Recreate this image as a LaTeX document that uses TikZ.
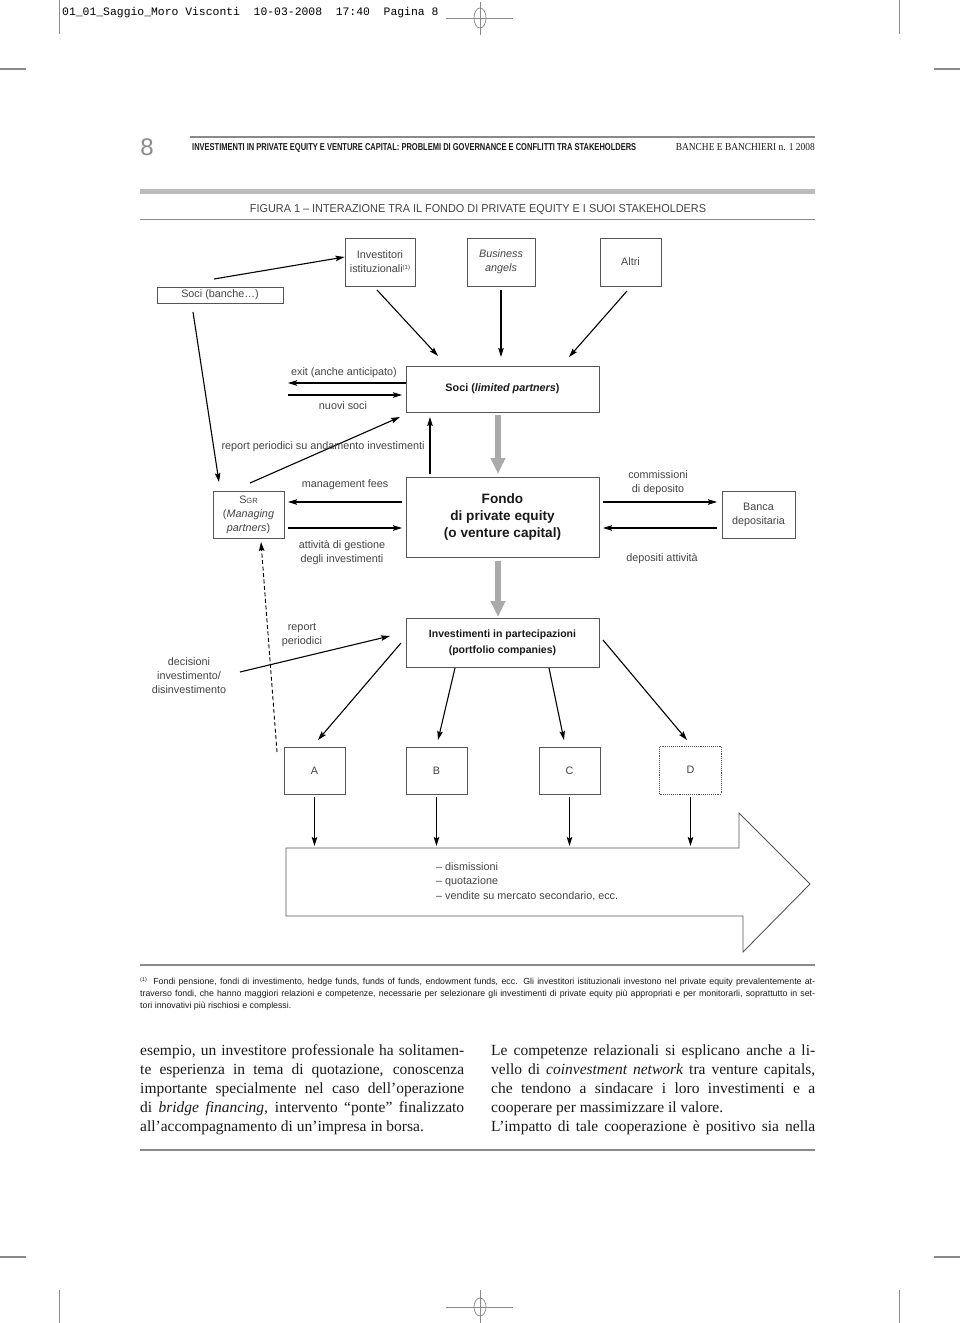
\documentclass[tikz,border=0pt]{standalone}
\usepackage{fontspec}
\usepackage{graphicx}
\setmainfont{Liberation Sans}
\newfontfamily\seriffont{Liberation Serif}
\newfontfamily\monofont{Liberation Mono}
\usetikzlibrary{arrows.meta}
\definecolor{boxgray}{HTML}{555555}
\definecolor{txtgray}{HTML}{444444}
\definecolor{rulegray}{HTML}{8A8A8A}
\definecolor{bandgray}{HTML}{BBBBBB}
\definecolor{fatgray}{HTML}{AAAAAA}
\definecolor{bodytxt}{HTML}{1A1A1A}
\newcommand{\labfont}{\fontsize{10.8}{14}\selectfont}
\newcommand{\bodyfont}{\seriffont\fontsize{15.5}{19}\selectfont}
\newcommand{\fnfont}{\fontsize{8.8}{12}\selectfont}
\tikzset{
  box/.style={draw=boxgray, line width=0.9pt, inner sep=0pt, align=center, text=txtgray, font=\labfont},
  arr/.style={-{Stealth[length=9pt,width=5.5pt,inset=1.5pt]}, line width=1.1pt, black},
  fat/.style={-{Triangle[length=16pt,width=14pt]}, line width=6pt, fatgray},
  lab/.style={text=txtgray, font=\labfont, inner sep=0pt, align=center},
  pmark/.style={rulegray, line width=0.7pt},
  bodyline/.style={anchor=base west, inner sep=0pt, text=bodytxt, font=\bodyfont},
  fnline/.style={anchor=base west, inner sep=0pt, text=bodytxt, font=\fnfont},
}
\begin{document}
\begin{tikzpicture}[x=1pt,y=-1pt]
\useasboundingbox (0,0) rectangle (960,1323);
\fill[white] (0,0) rectangle (960,1323);

% ---------- page furniture ----------
\node[anchor=base west, inner sep=0pt, font=\monofont\fontsize{11.4}{12}\selectfont] (hdr) at (62,15)
  {01\_01\_Saggio\_Moro Visconti\ \ 10-03-2008\ \ 17:40\ \ Pagina 8};
\draw[pmark] (59,0) -- (59,34);
\draw[pmark] (899,0) -- (899,34);
\draw[pmark] (446,18) -- (513,18);
\draw[pmark] (480,2) -- (480,35);
\draw[pmark] (480,18) ellipse [x radius=6, y radius=10];
\draw[rulegray, line width=1.2pt] (0,69) -- (26,69);
\draw[rulegray, line width=1.2pt] (934,69) -- (960,69);

\draw[pmark] (59,1290) -- (59,1323);
\draw[pmark] (899,1290) -- (899,1323);
\draw[pmark] (446,1307) -- (513,1307);
\draw[pmark] (480,1290) -- (480,1323);
\draw[pmark] (480,1307) ellipse [x radius=6, y radius=9];
\draw[rulegray, line width=1.2pt] (0,1257) -- (26,1257);
\draw[rulegray, line width=1.2pt] (934,1257) -- (960,1257);

% running head
\node[anchor=center, inner sep=0pt, text=rulegray, font=\fontsize{24}{24}\selectfont] (pnum) at (147,147) {8};
\draw[rulegray, line width=1.2pt] (190,137) -- (815,137);
\node[anchor=base west, inner sep=0pt, text=bodytxt] (rh) at (192,150.5)
  {\resizebox{444pt}{7pt}{\bfseries INVESTIMENTI IN PRIVATE EQUITY E VENTURE CAPITAL: PROBLEMI DI GOVERNANCE E CONFLITTI TRA STAKEHOLDERS}};
\node[anchor=base east, inner sep=0pt, text=bodytxt] (rj) at (815,150.5)
  {\resizebox{139pt}{7pt}{\seriffont BANCHE E BANCHIERI n. 1 2008}};

% figure title band
\draw[bandgray, line width=5pt] (140,191.5) -- (815,191.5);
\node[anchor=base, inner sep=0pt, text=txtgray] (ftitle) at (478,212)
  {\resizebox{456pt}{8pt}{FIGURA 1 -- INTERAZIONE TRA IL FONDO DI PRIVATE EQUITY E I SUOI STAKEHOLDERS}};
\draw[rulegray, line width=1pt] (140,219) -- (815,219);

% ---------- boxes ----------
\node[box, minimum width=70pt, minimum height=48pt] (inv) at (380,262) {Investitori\\istituzionali{\fontsize{6}{6}\selectfont\raisebox{3pt}{(1)}}};
\node[box, minimum width=68pt, minimum height=48pt] (bus) at (501,262) {\itshape Business\\\itshape angels};
\node[box, minimum width=61pt, minimum height=48pt] (altri) at (630.5,262) {Altri};
\node[box, minimum width=126pt, minimum height=16pt] (socib) at (220,295) {Soci (banche\dots)};

\node[box, minimum width=193pt, minimum height=46pt, text=bodytxt] (socilp) at (502.5,389) {\bfseries Soci (\textit{limited partners})};
\node[box, minimum width=71pt, minimum height=47pt] (sgr) at (248.5,514.5) {S{\fontsize{7.5}{9}\selectfont GR}\\(\textit{Managing}\\\textit{partners})};
\node[box, minimum width=193pt, minimum height=80pt, text=bodytxt, font=\fontsize{13.6}{17}\selectfont\bfseries] (fondo) at (502.5,517) {Fondo\\di private equity\\(o venture capital)};
\node[box, minimum width=73pt, minimum height=47pt] (banca) at (758.5,514.5) {Banca\\depositaria};
\node[box, minimum width=193pt, minimum height=49pt, text=bodytxt, font=\fontsize{10.5}{16}\selectfont\bfseries] (part) at (502.5,642.5) {Investimenti in partecipazioni\\(portfolio companies)};

\node[box, minimum width=61pt, minimum height=47pt] (A) at (314.5,770.5) {A};
\node[box, minimum width=61pt, minimum height=47pt] (B) at (436.5,770.5) {B};
\node[box, minimum width=61pt, minimum height=47pt] (C) at (569.5,770.5) {C};
\node[box, minimum width=62pt, minimum height=48pt, densely dotted] (D) at (690.5,770) {D};

% big exit arrow
\draw[boxgray, line width=0.9pt, fill=white] (286,848) -- (739,848) -- (739,813) -- (810,884) -- (743,952) -- (743,916) -- (286,916) -- cycle;
\node[lab, align=left, anchor=west, font=\fontsize{10.8}{14.5}\selectfont] (exitlist) at (436,881.5)
  {-- dismissioni\\-- quotazione\\-- vendite su mercato secondario, ecc.};

% ---------- connectors ----------
\coordinate (sb1) at (214,279);
\coordinate (sb2) at (193,312);
\draw[arr] (sb1) -- (inv.west |- 0,257);
\draw[arr] (sb2) -- (219,482);

\draw[arr] (377,290) -- (438,356);
\draw[arr] (bus.south |- 0,290) -- (bus.south |- 0,357);
\draw[arr] (627,291) -- (569,357);

\draw[arr] (socilp.west |- 0,383) -- (288,383);
\draw[arr] (288,395) -- (402,395);
\node[lab] (lexit) at (344,373) {exit (anche anticipato)};
\node[lab] (lnuovi) at (343,406) {nuovi soci};

\draw[arr] (250,483) -- (400,417);
\node[lab] (lrep) at (323,447) {report periodici su andamento investimenti};
\draw[arr] (430,474) -- (430,417);

\draw[fat] (498,415) -- (498,474);
\draw[fat] (498,561) -- (498,617);

\draw[arr] (402,502) -- (288,502);
\draw[arr] (288,528) -- (402,528);
\node[lab] (lmgmt) at (345,485) {management fees};
\node[lab] (latt) at (342,553) {attivit\`a di gestione\\degli investimenti};

\draw[arr] (603,502) -- (717,502);
\draw[arr] (717,528) -- (603,528);
\node[lab] (lcomm) at (658,483) {commissioni\\di deposito};
\node[lab] (ldep) at (662,559) {depositi attivit\`a};

\coordinate (dash0) at (277,752);
\draw[arr, dashed, line width=0.9pt, dash pattern=on 4pt off 2.5pt] (dash0) -- (261,542);

\draw[arr] (240,672) -- (390,636);
\node[lab] (lrep2) at (302,635) {report\\periodici};
\node[lab] (ldec) at (189,676) {decisioni\\investimento/\\disinvestimento};

\draw[arr] (401,643) -- (318,740);
\draw[arr] (455,668) -- (438,740);
\draw[arr] (549,668) -- (564,740);
\draw[arr] (603,640) -- (687,740);

\draw[arr] (A.south |- 0,797) -- (A.south |- 0,846);
\draw[arr] (B.south |- 0,797) -- (B.south |- 0,846);
\draw[arr] (C.south |- 0,797) -- (C.south |- 0,846);
\draw[arr] (D.south |- 0,797) -- (D.south |- 0,846);

% ---------- footnote ----------
\draw[rulegray, line width=1.2pt] (140,965) -- (815,965);
\node[fnline] (fn1) at (140,984) {\makebox[675pt][s]{\raisebox{3pt}{\fontsize{5.5}{6}\selectfont(1)}\ \ Fondi pensione, fondi di investimento, hedge funds, funds of funds, endowment funds, ecc. Gli investitori istituzionali investono nel private equity prevalentemente at-}};
\node[fnline] (fn2) at (140,996) {\makebox[675pt][s]{traverso fondi, che hanno maggiori relazioni e competenze, necessarie per selezionare gli investimenti di private equity pi\`u appropriati e per monitorarli, soprattutto in set-}};
\node[fnline] (fn3) at (140,1008) {tori innovativi pi\`u rischiosi e complessi.};

% ---------- body text ----------
\node[bodyline] (l1) at (140,1055) {\makebox[324pt][s]{esempio, un investitore professionale ha solitamen-}};
\node[bodyline] (l2) at (140,1074) {\makebox[324pt][s]{te esperienza in tema di quotazione, conoscenza}};
\node[bodyline] (l3) at (140,1093) {\makebox[324pt][s]{importante specialmente nel caso dell’operazione}};
\node[bodyline] (l4) at (140,1112) {\makebox[324pt][s]{di \textit{bridge financing}, intervento “ponte” finalizzato}};
\node[bodyline] (l5) at (140,1131) {all’accompagnamento di un’impresa in borsa.};

\node[bodyline] (r1) at (491,1055) {\makebox[324pt][s]{Le competenze relazionali si esplicano anche a li-}};
\node[bodyline] (r2) at (491,1074) {\makebox[324pt][s]{vello di \textit{coinvestment network} tra venture capitals,}};
\node[bodyline] (r3) at (491,1093) {\makebox[324pt][s]{che tendono a sindacare i loro investimenti e a}};
\node[bodyline] (r4) at (491,1112) {cooperare per massimizzare il valore.};
\node[bodyline] (r5) at (491,1131) {\makebox[324pt][s]{L’impatto di tale cooperazione è positivo sia nella}};

\draw[rulegray, line width=2pt] (140,1150) -- (815,1150);
\end{tikzpicture}
\end{document}
